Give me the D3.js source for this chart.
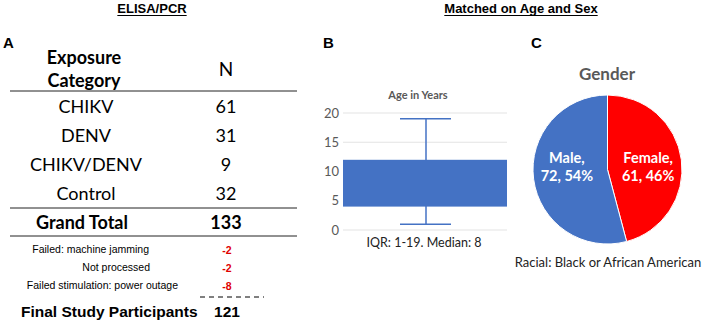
<!DOCTYPE html>
<html>
<head>
<meta charset="utf-8">
<script src="https://cdn.jsdelivr.net/npm/d3@7"></script>
<style>
  body { margin: 0; background: #fff; }
  text { font-family: Lato, "Open Sans", sans-serif; }
  .arial { font-family: "Liberation Sans", Arial, sans-serif; }
</style>
</head>
<body>
<script>
// ---- data ----
var categories = ["CHIKV", "DENV", "CHIKV/DENV", "Control"];
var counts = [61, 31, 9, 32];
var grandTotal = 133;
var exclusionLabels = ["Failed: machine jamming", "Not processed", "Failed stimulation: power outage"];
var exclusionValues = [-2, -2, -8];
var finalCount = 121;

var ageStats = { min: 1, q1: 4, median: 8, q3: 12, max: 19 };
var ageTicks = [0, 5, 10, 15, 20];

var genderLabels = ["Female", "Male"];
var genderCounts = [61, 72];
var genderColors = ["#FF0000", "#4472C4"];

var W = 702, H = 323;
var svg = d3.select("body").append("svg")
    .attr("width", W)
    .attr("height", H);

// ---- headings ----
function heading(x, y, str) {
  var t = svg.append("text").attr("class", "arial")
      .attr("x", x).attr("y", y)
      .attr("text-anchor", "middle")
      .style("font-size", "13px").style("font-weight", "bold")
      .text(str);
  var w = t.node().getComputedTextLength();
  svg.append("line")
      .attr("x1", x - w / 2).attr("x2", x + w / 2)
      .attr("y1", y + 2.5).attr("y2", y + 2.5)
      .attr("stroke", "#000").attr("stroke-width", 1);
}
heading(152, 13, "ELISA/PCR");
heading(521, 13, "Matched on Age and Sex");

[["A", 3], ["B", 323], ["C", 531]].forEach(function(p) {
  svg.append("text").attr("class", "arial")
      .attr("x", p[1]).attr("y", 48)
      .style("font-size", "15px").style("font-weight", "bold")
      .text(p[0]);
});

// ---- panel A: table ----
var colCat = 84, colN = 226;
var tA = svg.append("g");

tA.append("text").attr("x", colCat).attr("y", 64)
    .attr("text-anchor", "middle")
    .style("font-size", "18px").style("font-weight", "bold")
    .text("Exposure");
tA.append("text").attr("x", colCat).attr("y", 87)
    .attr("text-anchor", "middle")
    .style("font-size", "18px").style("font-weight", "bold")
    .text("Category");
tA.append("text").attr("x", colN).attr("y", 76)
    .attr("text-anchor", "middle")
    .style("font-size", "19px")
    .text("N");

var rowY = d3.scalePoint().domain(categories).range([113, 200]);

tA.selectAll(".cat").data(categories).enter().append("text")
    .attr("class", "cat")
    .attr("x", colCat + 2)
    .attr("y", function(d) { return rowY(d); })
    .attr("text-anchor", "middle")
    .style("font-size", "18px")
    .text(function(d) { return d; });

tA.selectAll(".num").data(counts).enter().append("text")
    .attr("class", "num")
    .attr("x", colN)
    .attr("y", function(d, i) { return rowY(categories[i]); })
    .attr("text-anchor", "middle")
    .style("font-size", "18px")
    .text(function(d) { return d; });

[91, 208, 236].forEach(function(y) {
  tA.append("line")
      .attr("x1", 10).attr("x2", 297)
      .attr("y1", y).attr("y2", y)
      .attr("stroke", "#222").attr("stroke-width", 1);
});

tA.append("text").attr("x", colCat - 2).attr("y", 229)
    .attr("text-anchor", "middle")
    .style("font-size", "18px").style("font-weight", "bold")
    .text("Grand Total");
tA.append("text").attr("x", colN).attr("y", 229)
    .attr("text-anchor", "middle")
    .style("font-size", "18px").style("font-weight", "bold")
    .text(grandTotal);

var exY = d3.scalePoint().domain(exclusionLabels).range([253, 289]);
var exRight = [149, 150, 178];

tA.selectAll(".exl").data(exclusionLabels).enter().append("text")
    .attr("class", "exl arial")
    .attr("x", function(d, i) { return exRight[i]; })
    .attr("y", function(d) { return exY(d); })
    .attr("text-anchor", "end")
    .style("font-size", "10.5px")
    .text(function(d) { return d; });

tA.selectAll(".exv").data(exclusionValues).enter().append("text")
    .attr("class", "exv arial")
    .attr("x", 227)
    .attr("y", function(d, i) { return exY(exclusionLabels[i]) + 1; })
    .attr("text-anchor", "middle")
    .style("font-size", "10.5px").style("font-weight", "bold")
    .attr("fill", "#E00000")
    .text(function(d) { return d; });

tA.append("line")
    .attr("x1", 200).attr("x2", 264)
    .attr("y1", 297).attr("y2", 297)
    .attr("stroke", "#000").attr("stroke-width", 1)
    .attr("stroke-dasharray", "5,4");

tA.append("text").attr("class", "arial")
    .attr("x", 21).attr("y", 317)
    .style("font-size", "15.5px").style("font-weight", "bold")
    .text("Final Study Participants");
tA.append("text").attr("class", "arial")
    .attr("x", 227).attr("y", 317)
    .attr("text-anchor", "middle")
    .style("font-size", "15.5px").style("font-weight", "bold")
    .text(finalCount);

// ---- panel B: age box ----
var bx0 = 343, bx1 = 507, by0 = 113, by1 = 230;
var y = d3.scaleLinear().domain([0, 20]).range([by1, by0]);
var x = d3.scaleBand().domain(["Age"]).range([bx0, bx1]).padding(0);

var gB = svg.append("g");

gB.selectAll(".grid").data(ageTicks).enter().append("line")
    .attr("x1", bx0).attr("x2", bx1)
    .attr("y1", function(d) { return y(d); })
    .attr("y2", function(d) { return y(d); })
    .attr("stroke", "#E3E3E3").attr("stroke-width", 1);

gB.selectAll(".tick").data(ageTicks).enter().append("text")
    .attr("x", bx0 - 4)
    .attr("y", function(d) { return y(d) + 4.5; })
    .attr("text-anchor", "end")
    .attr("fill", "#595959")
    .style("font-size", "13px")
    .text(function(d) { return d; });

var cx = 426;
gB.append("line")
    .attr("x1", cx).attr("x2", cx)
    .attr("y1", y(ageStats.max)).attr("y2", y(ageStats.min))
    .attr("stroke", "#4472C4").attr("stroke-width", 1.5);
[ageStats.max, ageStats.min].forEach(function(v) {
  gB.append("line")
      .attr("x1", cx - 26).attr("x2", cx + 25)
      .attr("y1", y(v)).attr("y2", y(v))
      .attr("stroke", "#4472C4").attr("stroke-width", 1.5);
});
gB.append("rect")
    .attr("x", x("Age"))
    .attr("width", x.bandwidth())
    .attr("y", y(ageStats.q3))
    .attr("height", y(ageStats.q1) - y(ageStats.q3))
    .attr("fill", "#4472C4");

gB.append("text").attr("x", 418).attr("y", 99)
    .attr("text-anchor", "middle")
    .attr("fill", "#595959")
    .style("font-size", "11px").style("font-weight", "bold")
    .text("Age in Years");

gB.append("text").attr("x", 424).attr("y", 247)
    .attr("text-anchor", "middle")
    .attr("fill", "#222")
    .style("font-size", "12.5px")
    .text("IQR: " + ageStats.min + "-" + ageStats.max + ". Median: " + ageStats.median);

// ---- panel C: gender pie ----
var pcx = 607.5, pcy = 169.5, r = 74.5;
var total = d3.sum(genderCounts);
var pie = d3.pie().sort(null).value(function(d) { return d; });
var arc = d3.arc().innerRadius(0).outerRadius(r);
var labelArc = d3.arc().innerRadius(r * 0.55).outerRadius(r * 0.55);

var gC = svg.append("g").attr("transform", "translate(" + pcx + "," + pcy + ")");
var slices = pie(genderCounts);

gC.selectAll("path").data(slices).enter().append("path")
    .attr("d", arc)
    .attr("fill", function(d, i) { return genderColors[i]; })
    .attr("stroke", "#fff").attr("stroke-width", 1);

slices.forEach(function(d, i) {
  var c = labelArc.centroid(d);
  var pct = Math.round(100 * d.value / total);
  var t = gC.append("text")
      .attr("text-anchor", "middle")
      .attr("fill", "#fff")
      .style("font-size", "14.5px").style("font-weight", "bold");
  t.append("tspan").attr("x", c[0]).attr("y", -7).text(genderLabels[i] + ",");
  t.append("tspan").attr("x", c[0]).attr("y", 11).text(d.value + ", " + pct + "%");
});

svg.append("text").attr("x", 607).attr("y", 80)
    .attr("text-anchor", "middle")
    .attr("fill", "#595959")
    .style("font-size", "17px").style("font-weight", "bold")
    .text("Gender");

svg.append("text").attr("x", 608).attr("y", 267)
    .attr("text-anchor", "middle")
    .attr("fill", "#222")
    .style("font-size", "13px")
    .text("Racial: Black or African American");
</script>
</body>
</html>
